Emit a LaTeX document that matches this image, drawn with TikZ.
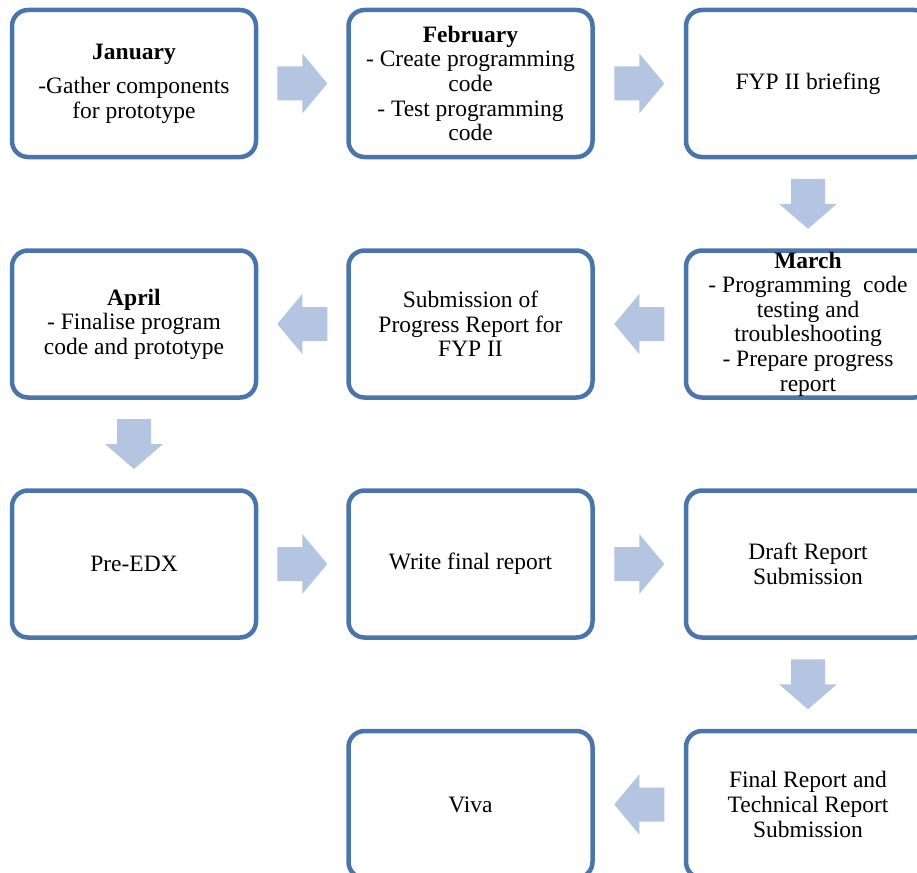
\documentclass[tikz,border=0pt]{standalone}
\usepackage{fontspec}
\setmainfont{Liberation Serif}
\usetikzlibrary{calc}
\definecolor{boxline}{HTML}{4A75AA}
\definecolor{arrowfill}{HTML}{B3C5E0}
\tikzset{
  stepbox/.style={draw=boxline, line width=4.5pt, rounded corners=16pt, fill=white,
    minimum width=244pt, minimum height=147pt, inner sep=0pt, align=center,
    text=black, font=\fontsize{23.5}{24.6}\selectfont},
  arR/.pic={\fill[arrowfill] (-25,-17) -- (0,-17) -- (0,-30) -- (25,0) -- (0,30) -- (0,17) -- (-25,17) -- cycle;},
  arL/.pic={\fill[arrowfill] (25,-17) -- (0,-17) -- (0,-30) -- (-25,0) -- (0,30) -- (0,17) -- (25,17) -- cycle;},
  arD/.pic={\fill[arrowfill] (-17,-25) -- (17,-25) -- (17,0) -- (29,0) -- (0,25) -- (-29,0) -- (-17,0) -- cycle;}
}
\begin{document}
\begin{tikzpicture}[x=1pt,y=-1pt]
\useasboundingbox (0,0) rectangle (917,872);
\clip (0,0) rectangle (917,872);
\fill[white] (0,0) rectangle (917,872);
% row 1
\node[stepbox] (jan) at (134,83.5) {\textbf{January}\\[10pt]-Gather components\\for prototype};
\node[stepbox] (feb) at (470.5,83.5) {\textbf{February}\\- Create programming\\code\\- Test programming\\code};
\node[stepbox] (fyp) at (808,83.5) {FYP II briefing};
% row 2
\node[stepbox] (mar) at (808,324) {\textbf{March}\\- Programming\ \ code\\testing and\\troubleshooting\\- Prepare progress\\report};
\node[stepbox] (sub) at (470.5,324) {Submission of\\Progress Report for\\FYP II};
\node[stepbox] (apr) at (134,324) {\textbf{April}\\- Finalise program\\code and prototype};
% row 3
\node[stepbox] (edx) at (134,564) {Pre-EDX};
\node[stepbox] (wfr) at (470.5,564) {Write final report};
\node[stepbox] (drf) at (808,564) {Draft Report\\Submission};
% row 4
\node[stepbox] (fin) at (808,804.5) {Final Report and\\Technical Report\\Submission};
\node[stepbox] (viva) at (470.5,804.5) {Viva};
% block arrows
\pic at ($(jan.east)!0.5!(feb.west)$) {arR};
\pic at ($(feb.east)!0.5!(fyp.west)$) {arR};
\pic at ($(fyp.south)!0.5!(mar.north)$) {arD};
\pic at ($(mar.west)!0.5!(sub.east)$) {arL};
\pic at ($(sub.west)!0.5!(apr.east)$) {arL};
\pic at ($(apr.south)!0.5!(edx.north)$) {arD};
\pic at ($(edx.east)!0.5!(wfr.west)$) {arR};
\pic at ($(wfr.east)!0.5!(drf.west)$) {arR};
\pic at ($(drf.south)!0.5!(fin.north)$) {arD};
\pic at ($(fin.west)!0.5!(viva.east)$) {arL};
\end{tikzpicture}
\end{document}
